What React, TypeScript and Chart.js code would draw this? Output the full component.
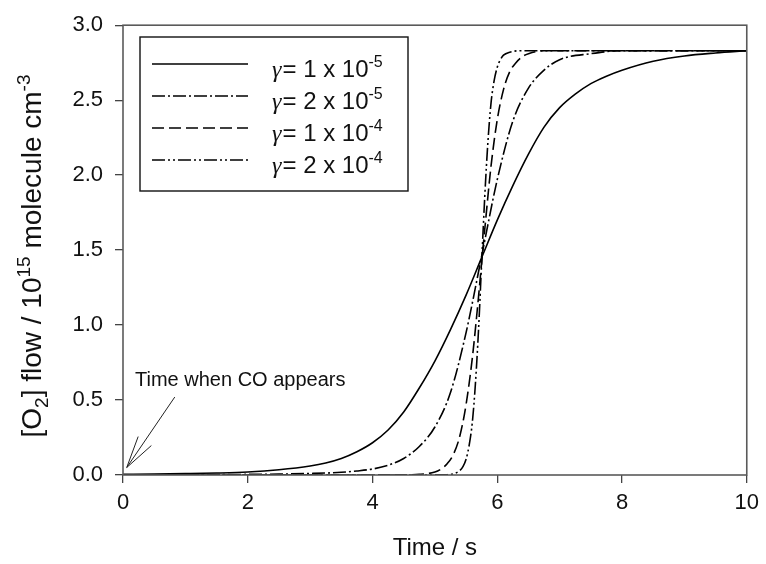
import React, { useEffect, useRef } from "react";
import { Chart, registerables } from "chart.js";

Chart.register(...registerables);

// ---- Data ----
const timeSolid = [0, 0.5, 1, 1.5, 2, 2.5, 3, 3.25, 3.5, 3.75, 4, 4.25, 4.5, 4.75, 5, 5.25, 5.5, 5.75, 6, 6.25, 6.5, 6.75, 7, 7.25, 7.5, 7.75, 8, 8.5, 9, 9.5, 10];
const o2Gamma1e5 = [0.004, 0.006, 0.009, 0.013, 0.02, 0.035, 0.06, 0.08, 0.11, 0.155, 0.215, 0.3, 0.42, 0.58, 0.76, 0.97, 1.2, 1.45, 1.7, 1.93, 2.14, 2.32, 2.45, 2.54, 2.61, 2.66, 2.7, 2.76, 2.795, 2.815, 2.83];

const timeDashDot = [0, 1, 2, 2.5, 3, 3.5, 3.75, 4, 4.25, 4.5, 4.75, 5, 5.25, 5.5, 5.75, 6, 6.25, 6.5, 6.75, 7, 7.5, 8, 9, 10];
const o2Gamma2e5 = [0.001, 0.002, 0.004, 0.006, 0.01, 0.018, 0.027, 0.04, 0.065, 0.11, 0.19, 0.32, 0.55, 0.95, 1.46, 1.97, 2.36, 2.58, 2.7, 2.77, 2.81, 2.83, 2.83, 2.83];

const timeDashed = [0, 2, 4, 4.5, 4.75, 5, 5.1, 5.2, 5.3, 5.4, 5.5, 5.6, 5.7, 5.75, 5.8, 5.9, 6, 6.1, 6.2, 6.3, 6.4, 6.5, 6.75, 7, 8, 10];
const o2Gamma1e4 = [0, 0, 0.0005, 0.001, 0.004, 0.02, 0.04, 0.077, 0.14, 0.26, 0.47, 0.78, 1.19, 1.42, 1.64, 2.06, 2.37, 2.57, 2.69, 2.75, 2.79, 2.81, 2.83, 2.83, 2.83, 2.83];

const timeDashDotDot = [0, 2, 4, 5, 5.2, 5.3, 5.4, 5.45, 5.5, 5.55, 5.6, 5.65, 5.7, 5.75, 5.8, 5.85, 5.9, 5.95, 6, 6.05, 6.1, 6.2, 6.4, 7, 10];
const o2Gamma2e4 = [0, 0, 0, 0.0005, 0.002, 0.008, 0.03, 0.056, 0.105, 0.2, 0.35, 0.61, 0.97, 1.42, 1.86, 2.22, 2.48, 2.63, 2.72, 2.77, 2.8, 2.82, 2.83, 2.83, 2.83];

const gammaMantissa = ["1", "2", "1", "2"];
const gammaExponent = ["-5", "-5", "-4", "-4"];
const xTickValues = [0, 2, 4, 6, 8, 10];
const yTickValues = [0, 0.5, 1, 1.5, 2, 2.5, 3];

const annotationText = "Time when CO appears";
const xTitle = "Time / s";

const dashes: number[][] = [[], [13, 3, 2, 3], [12, 5], [13, 3, 2, 3, 2, 3]];

const SANS = '"Liberation Sans", Arial, Helvetica, sans-serif';
const SERIF = '"Liberation Serif", "Times New Roman", serif';

function pairs(xs: number[], ys: number[]) {
  return xs.map((x, i) => ({ x, y: ys[i] }));
}

const decorPlugin = {
  id: "decor",
  afterDraw(chart: any) {
    const ctx: CanvasRenderingContext2D = chart.ctx;
    const a = chart.chartArea;
    const xs = chart.scales.x;
    const ys = chart.scales.y;
    ctx.save();

    // frame
    ctx.strokeStyle = "#5a5a5a";
    ctx.lineWidth = 1.6;
    ctx.setLineDash([]);
    ctx.strokeRect(a.left, a.top, a.right - a.left, a.bottom - a.top);

    // legend
    const bx = 140, by = 37, bw = 268, bh = 154;
    ctx.strokeStyle = "#111";
    ctx.lineWidth = 1.4;
    ctx.strokeRect(bx, by, bw, bh);
    const rowY = [64, 96, 128, 160];
    for (let i = 0; i < 4; i++) {
      const y = rowY[i];
      ctx.strokeStyle = "#000";
      ctx.lineWidth = 1.6;
      ctx.setLineDash(dashes[i]);
      ctx.beginPath();
      ctx.moveTo(152, y);
      ctx.lineTo(248, y);
      ctx.stroke();
      ctx.setLineDash([]);
      ctx.fillStyle = "#111";
      ctx.textBaseline = "alphabetic";
      ctx.textAlign = "left";
      let tx = 272;
      const base = y + 13;
      ctx.font = `italic 24px ${SERIF}`;
      ctx.fillText("γ", tx, base);
      tx += ctx.measureText("γ").width + 1;
      ctx.font = `24px ${SANS}`;
      const main = "= " + gammaMantissa[i] + " x 10";
      ctx.fillText(main, tx, base);
      tx += ctx.measureText(main).width;
      ctx.font = `16px ${SANS}`;
      ctx.fillText(gammaExponent[i], tx, base - 10);
    }

    // annotation arrow
    const tipX = xs.getPixelForValue(0.06);
    const tipY = ys.getPixelForValue(0.05);
    const tailX = xs.getPixelForValue(0.83);
    const tailY = ys.getPixelForValue(0.52);
    ctx.strokeStyle = "#222";
    ctx.lineWidth = 1;
    ctx.beginPath();
    ctx.moveTo(tailX, tailY);
    ctx.lineTo(tipX, tipY);
    const ang = Math.atan2(tailY - tipY, tailX - tipX);
    const wl = 33, wa = (14 * Math.PI) / 180;
    ctx.moveTo(tipX + wl * Math.cos(ang - wa), tipY + wl * Math.sin(ang - wa));
    ctx.lineTo(tipX, tipY);
    ctx.lineTo(tipX + wl * Math.cos(ang + wa), tipY + wl * Math.sin(ang + wa));
    ctx.stroke();
    ctx.fillStyle = "#111";
    ctx.font = `20px ${SANS}`;
    ctx.textAlign = "left";
    ctx.textBaseline = "alphabetic";
    ctx.fillText(annotationText, 135, 386);

    // x title
    ctx.font = `24px ${SANS}`;
    ctx.textAlign = "center";
    ctx.textBaseline = "middle";
    ctx.fillText(xTitle, (a.left + a.right) / 2, 548);

    // y title with sub/superscripts
    const parts: [string, number, number][] = [
      ["[O", 28, 0],
      ["2", 19, 7],
      ["] flow / 10", 28, 0],
      ["15", 19, -11],
      [" molecule cm", 28, 0],
      ["-3", 19, -11],
    ];
    let total = 0;
    for (const [t, s] of parts) {
      ctx.font = `${s}px ${SANS}`;
      total += ctx.measureText(t).width;
    }
    ctx.translate(41, 256);
    ctx.rotate(-Math.PI / 2);
    ctx.textAlign = "left";
    ctx.textBaseline = "alphabetic";
    let px = -total / 2;
    for (const [t, s, off] of parts) {
      ctx.font = `${s}px ${SANS}`;
      ctx.fillText(t, px, off);
      px += ctx.measureText(t).width;
    }
    ctx.restore();
  },
};

export default function App() {
  const ref = useRef<HTMLCanvasElement | null>(null);

  useEffect(() => {
    document.body.style.margin = "0";
    document.body.style.overflow = "hidden";
    const canvas = ref.current;
    if (!canvas) return;
    const series = [o2Gamma1e5, o2Gamma2e5, o2Gamma1e4, o2Gamma2e4];
    const times = [timeSolid, timeDashDot, timeDashed, timeDashDotDot];
    const chart = new Chart(canvas, {
      type: "line",
      data: {
        datasets: series.map((ys, i) => ({
          label: "γ = " + gammaMantissa[i] + " x 10^" + gammaExponent[i],
          data: pairs(times[i], ys),
          borderColor: "#000",
          borderWidth: 1.6,
          borderDash: dashes[i],
          pointRadius: 0,
          fill: false,
          cubicInterpolationMode: "monotone" as const,
        })),
      },
      options: {
        animation: false,
        responsive: true,
        maintainAspectRatio: false,
        layout: { padding: { left: 0, right: 15, top: 22, bottom: 0 } },
        plugins: { legend: { display: false }, tooltip: { enabled: false } },
        scales: {
          x: {
            type: "linear",
            min: 0,
            max: 10,
            afterFit: (s: any) => {
              s.height = 89;
            },
            afterBuildTicks: (s: any) => {
              s.ticks = xTickValues.map((v) => ({ value: v }));
            },
            border: { display: false },
            grid: { drawOnChartArea: false, drawTicks: true, tickLength: 8, tickColor: "#444", lineWidth: 1.3 },
            ticks: {
              color: "#111",
              padding: 7,
              maxRotation: 0,
              font: { family: SANS, size: 22 },
              callback: (v: any) => String(v),
            },
          },
          y: {
            type: "linear",
            min: 0,
            max: 3,
            afterFit: (s: any) => {
              s.width = 123;
            },
            afterBuildTicks: (s: any) => {
              s.ticks = yTickValues.map((v) => ({ value: v }));
            },
            border: { display: false },
            grid: { drawOnChartArea: false, drawTicks: true, tickLength: 8, tickColor: "#444", lineWidth: 1.3 },
            ticks: {
              color: "#111",
              padding: 12,
              font: { family: SANS, size: 22 },
              callback: (v: any) => Number(v).toFixed(1),
            },
          },
        },
      },
      plugins: [decorPlugin],
    } as any);
    return () => chart.destroy();
  }, []);

  return (
    <div style={{ width: 766, height: 564, position: "relative", background: "#fff" }}>
      <canvas ref={ref} />
    </div>
  );
}
